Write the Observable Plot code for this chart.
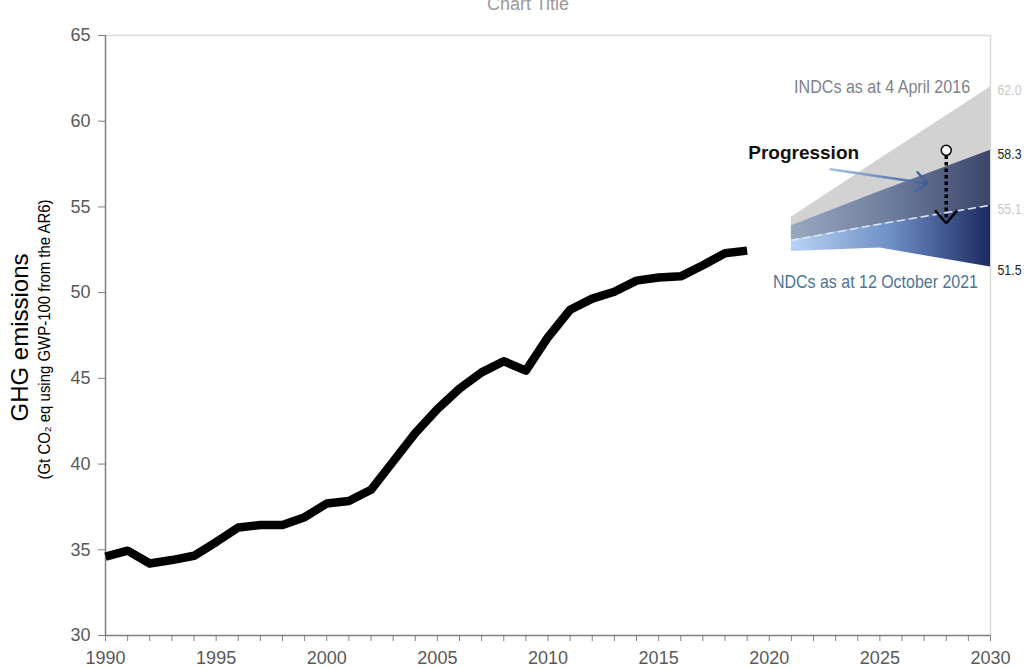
<!DOCTYPE html>
<html><head><meta charset="utf-8">
<script src="https://cdn.jsdelivr.net/npm/d3@7"></script>
<script src="https://cdn.jsdelivr.net/npm/@observablehq/plot@0.6"></script>
<style>
body{margin:0;background:#fff;}
#chart svg{display:block;}
</style>
</head><body><div id="chart"></div>
<script>
// Historical GHG emissions (Gt CO2 eq)
const years = [1990,1991,1992,1993,1994,1995,1996,1997,1998,1999,2000,2001,2002,2003,2004,2005,2006,2007,2008,2009,2010,2011,2012,2013,2014,2015,2016,2017,2018,2019];
const emissions = [34.6,34.95,34.2,34.4,34.65,35.45,36.3,36.45,36.45,36.9,37.7,37.85,38.5,40.15,41.8,43.2,44.4,45.35,46.0,45.45,47.4,49.0,49.65,50.05,50.7,50.88,50.95,51.6,52.3,52.45];

// Projection ranges
const bandYears = [2021, 2025, 2030];
const indcUpper = [54.4, 57.8, 62.0];
const indcLower = [53.05, 54.0, 55.1];
const ndcUpper  = [53.9, 55.9, 58.3];
const ndcLower  = [52.4, 52.6, 51.5];

// End labels
const endValues = [62.0, 58.3, 55.1, 51.5];
const endLabels = ["62.0", "58.3", "55.1", "51.5"];

// Axis ticks
const yTicks = [30, 35, 40, 45, 50, 55, 60, 65];
const xLabelTicks = [1990, 1995, 2000, 2005, 2010, 2015, 2020, 2025, 2030];
const xMinorTicks = d3.range(1990, 2031);

const bandIdx = bandYears.map((_, i) => i);

const chart = Plot.plot({
  width: 1025,
  height: 669,
  marginLeft: 105,
  marginRight: 35,
  marginTop: 35,
  marginBottom: 34,
  style: {fontFamily: "'Liberation Sans', Arial, sans-serif", background: "#fff"},
  x: {domain: [1990, 2030]},
  y: {domain: [30, 65]},
  marks: [
    // frame lines
    Plot.ruleY([65], {stroke: "#d9d9d9", strokeWidth: 1.5}),
    Plot.ruleX([2030], {stroke: "#d9d9d9", strokeWidth: 1.5}),
    // INDC range
    Plot.areaY(bandIdx, {x: i => bandYears[i], y1: i => indcLower[i], y2: i => indcUpper[i], fill: "#d2d2d2"}),
    // NDC overlap part
    Plot.areaY(bandIdx, {x: i => bandYears[i], y1: i => indcLower[i], y2: i => ndcUpper[i], fill: "url(#gradOver)"}),
    // NDC lower part
    Plot.areaY(bandIdx, {x: i => bandYears[i], y1: i => ndcLower[i], y2: i => indcLower[i], fill: "url(#gradLow)"}),
    // dashed INDC lower bound
    Plot.line(bandIdx, {x: i => bandYears[i], y: i => indcLower[i], stroke: "#dde7f3", strokeWidth: 1.5, strokeDasharray: "7,5"}),
    // axes
    Plot.axisY(yTicks, {tickSize: 7, tickPadding: 8, fontSize: 18, fill: "#595959", stroke: "#7f7f7f", label: null}),
    Plot.axisX(xMinorTicks, {tickSize: 6, tickFormat: () => "", stroke: "#7f7f7f", label: null}),
    Plot.axisX(xLabelTicks, {tickSize: 0, tickPadding: 16, fontSize: 18, fill: "#595959", tickFormat: "d", label: null}),
    Plot.ruleX([1990], {stroke: "#7f7f7f", strokeWidth: 1.5}),
    Plot.ruleY([30], {stroke: "#7f7f7f", strokeWidth: 1.5}),
    // historical line
    Plot.line(emissions, {x: (d, i) => years[i], y: d => d, stroke: "#000", strokeWidth: 8.5, strokeLinejoin: "round", strokeLinecap: "butt"}),
    // end labels
    Plot.text(endLabels, {x: 2030, y: (d, i) => endValues[i], text: d => d, dx: 7, dy: 4, textAnchor: "start", fontSize: 14, fill: (d, i) => i % 2 === 0 ? "#c8c8c8" : "#222", className: "narrow-end"}),
    // annotations
    Plot.text(["INDCs as at 4 April 2016"], {x: 2025.1, y: 62.0, text: d => d, fontSize: 19, fill: "#7d8289", className: "narrow-indc"}),
    Plot.text(["NDCs as at 12 October 2021"], {x: 2024.8, y: 50.6, text: d => d, fontSize: 19, fill: "#4a7595", className: "narrow-ndc"}),
    Plot.text(["Progression"], {x: 2019.05, y: 58.15, text: d => d, textAnchor: "start", fontSize: 19, fontWeight: "bold", fill: "#111"}),
    Plot.arrow([0], {x1: 2022.77, y1: 57.2, x2: 2027.15, y2: 56.37, stroke: "url(#gradArrow)", strokeWidth: 2.5, headLength: 9, headAngle: 80}),
    Plot.link([0], {x1: 2028, y1: 58.0, x2: 2028, y2: 54.3, stroke: "#000", strokeWidth: 3.5, strokeDasharray: "3.5,3"}),
    Plot.link([0, 1], {x1: i => [2027.5, 2028.5][i], y1: 54.8, x2: 2028, y2: 54.05, stroke: "#000", strokeWidth: 2.5}),
    Plot.dot([0], {x: 2028, y: 58.3, r: 5, fill: "#fff", stroke: "#000", strokeWidth: 1.5}),
    // y label
    Plot.text(["GHG emissions"], {frameAnchor: "left", dx: -85, dy: 2, rotate: -90, text: d => d, textAnchor: "middle", lineAnchor: "middle", fontSize: 24, fill: "#000"}),
    Plot.text(["(Gt CO₂ eq using GWP-100 from the AR6)"], {frameAnchor: "left", dx: -61, dy: 4, rotate: -90, text: d => d, textAnchor: "middle", lineAnchor: "middle", fontSize: 17, fill: "#000", className: "narrow-sub"}),
    // clipped chart title
    Plot.text(["Chart Title"], {frameAnchor: "top", dx: -20, dy: -31, text: d => d, textAnchor: "middle", fontSize: 18, fill: "#9a9a9a", lineAnchor: "middle"})
  ]
});

// Emulate the condensed typeface of the original with a compressed text length
const svg = d3.select(chart);
function condense(cls, len) {
  svg.selectAll(`.${cls} text`).attr("textLength", len).attr("lengthAdjust", "spacingAndGlyphs");
}
condense("narrow-indc", 176);
condense("narrow-ndc", 205);
condense("narrow-end", 24);
condense("narrow-sub", 280);

const defs = svg.insert("defs", ":first-child");
function grad(id, stops) {
  const g = defs.append("linearGradient").attr("id", id).attr("x1", 0).attr("x2", 1).attr("y1", 0).attr("y2", 0);
  stops.forEach(([o, c]) => g.append("stop").attr("offset", o).attr("stop-color", c));
}
grad("gradOver", [[0, "#98a8c0"], [0.5, "#6d7d9c"], [1, "#3b466a"]]);
grad("gradLow", [[0, "#b8d3f3"], [0.5, "#6f8fc6"], [1, "#1b2a60"]]);
grad("gradArrow", [[0, "#a9c2e3"], [1, "#3d5c9c"]]);

document.getElementById("chart").appendChild(chart);
</script>
</body></html>
